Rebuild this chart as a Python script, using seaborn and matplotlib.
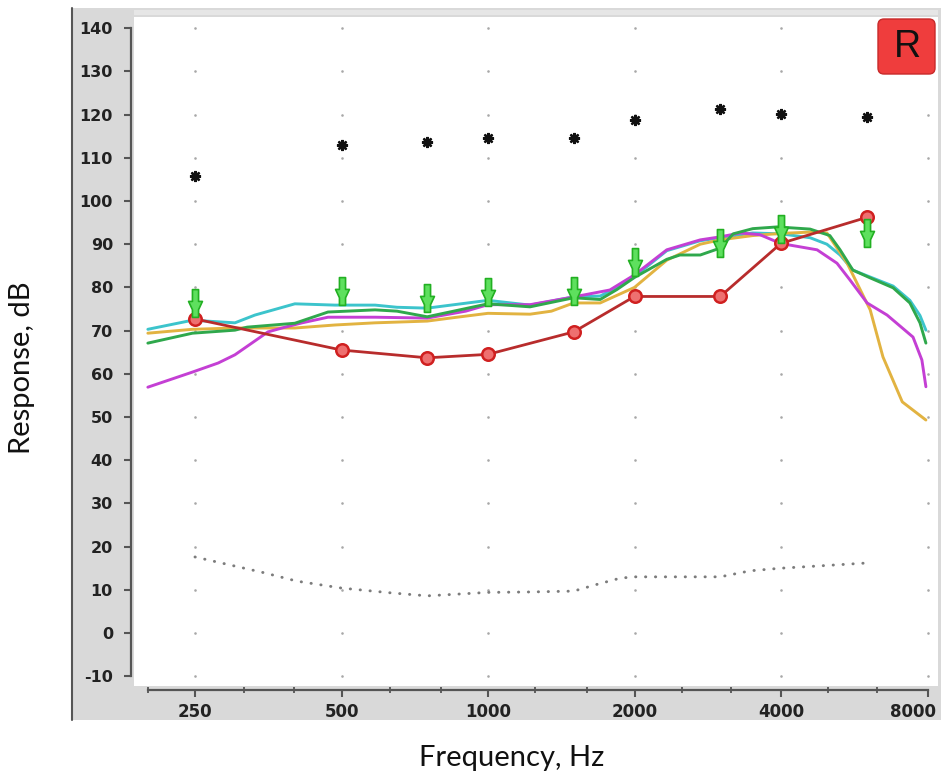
import numpy as np
import pandas as pd
import matplotlib
matplotlib.use("Agg")
import matplotlib.pyplot as plt
from matplotlib.path import Path
from matplotlib.patches import Rectangle, FancyBboxPatch
from matplotlib.transforms import ScaledTranslation
import seaborn as sns

# ---------------- data ----------------
tick_freqs = [250, 500, 1000, 2000, 4000, 8000]
tick_labels = ["250", "500", "1000", "2000", "4000", "8000"]
minor_freqs = [200, 315, 400, 630, 800, 1250, 1600, 2500, 3150, 5000, 6300]
y_ticks = list(range(-10, 141, 10))

audio_freqs = [250, 500, 750, 1000, 1500, 2000, 3000, 4000, 6000]
ucl_db = [105.8, 113.0, 113.7, 114.6, 114.6, 118.8, 121.3, 120.1, 119.4]
threshold_db = [72.7, 65.5, 63.7, 64.5, 69.7, 77.9, 77.9, 90.2, 96.2]
target_db = [76.4, 79.1, 77.5, 78.9, 79.2, 85.9, 90.2, 93.5, 92.5]

noise_freqs = [250, 345, 405, 500, 630, 750, 1000, 1220, 1500, 1680, 1870, 2000, 3000, 3460, 4000, 4745, 6000]
noise_db = [17.6, 14.0, 12.0, 10.4, 9.3, 8.6, 9.4, 9.5, 9.7, 11.3, 12.7, 13.0, 13.0, 14.4, 15.0, 15.5, 16.2]

cyan_f = [200, 247, 302, 332, 401, 485, 586, 650, 750, 1000, 1220, 1500, 1700, 1840, 2000, 2330, 2730, 3000, 3500, 4000, 4590, 4970, 5290, 5620, 6100, 6800, 7360, 7720, 7940]
cyan_db = [70.3, 72.4, 71.8, 73.6, 76.2, 75.9, 75.9, 75.4, 75.2, 77.0, 75.9, 77.8, 78.0, 80.0, 82.5, 88.5, 90.8, 91.5, 92.6, 92.4, 91.5, 90.0, 87.5, 84.0, 82.4, 80.3, 77.0, 73.5, 70.1]

green_f = [200, 247, 302, 320, 401, 469, 586, 650, 750, 850, 1000, 1220, 1500, 1700, 1840, 2000, 2330, 2480, 2730, 3000, 3190, 3500, 3930, 4590, 5040, 5290, 5620, 6100, 6800, 7360, 7720, 7940]
green_db = [67.1, 69.4, 70.1, 70.8, 71.7, 74.3, 74.8, 74.5, 73.2, 74.5, 76.2, 75.5, 77.6, 77.2, 79.5, 82.3, 86.5, 87.5, 87.5, 89.1, 92.4, 93.6, 94.0, 93.5, 92.0, 88.7, 84.0, 82.2, 79.9, 76.4, 71.8, 67.1]

yellow_f = [200, 247, 302, 401, 485, 586, 750, 850, 1000, 1220, 1350, 1500, 1700, 2000, 2330, 2730, 3000, 3500, 4000, 4590, 4970, 5470, 6100, 6480, 7100, 7940]
yellow_db = [69.4, 70.3, 70.6, 70.6, 71.3, 71.8, 72.2, 73.0, 74.0, 73.8, 74.5, 76.4, 76.4, 80.0, 86.3, 90.0, 91.0, 92.0, 92.5, 92.8, 92.6, 85.6, 74.8, 63.9, 53.5, 49.3]

magenta_f = [200, 247, 279, 302, 327, 353, 383, 415, 469, 586, 750, 900, 1000, 1220, 1500, 1780, 2000, 2330, 2730, 3000, 3300, 3620, 3930, 4170, 4745, 5213, 5545, 6012, 6607, 7470, 7790, 7940]
magenta_db = [56.9, 60.4, 62.5, 64.4, 67.1, 69.7, 70.8, 71.8, 73.1, 73.1, 72.9, 74.5, 76.0, 76.0, 77.8, 79.4, 82.9, 88.7, 91.0, 91.7, 92.6, 92.2, 90.5, 89.8, 88.7, 85.6, 81.7, 76.4, 73.6, 68.5, 63.2, 57.0]

curves = [
    ("cyan", cyan_f, cyan_db, "#3cc4cc"),
    ("yellow", yellow_f, yellow_db, "#e2b341"),
    ("magenta", magenta_f, magenta_db, "#c43fd4"),
    ("green", green_f, green_db, "#2fa84c"),
]

# ---------------- style ----------------
sns.set_style("white")
plt.rcParams["font.family"] = ["DejaVu Sans"]

W, H = 941, 776
fig = plt.figure(figsize=(W / 100, H / 100), dpi=100)
fig.patch.set_facecolor("white")

# background axes holding the gray instrument panel
bg = fig.add_axes([0, 0, 1, 1], zorder=-10)
bg.set_xlim(0, W)
bg.set_ylim(H, 0)
bg.axis("off")
bg.add_patch(Rectangle((72, 8), W - 72, 712, facecolor="#d9d9d9", edgecolor="none"))
bg.plot([72, 72], [8, 720], color="#555555", lw=1.5)
bg.add_patch(Rectangle((134, 10), 804, 5, facecolor="#e6e6e6", edgecolor="none"))

L, R_, B, T = 134, 938, 686, 17
ax = fig.add_axes([L / W, 1 - B / H, (R_ - L) / W, (B - T) / H], zorder=1)
ax.set_facecolor("white")
ax.set_xscale("log", base=2)

x0 = 250 * 2 ** ((L - 195) / 146.5)
x1 = 250 * 2 ** ((R_ - 195) / 146.5)
y0 = (633 - B) / 4.32
y1 = (633 - T) / 4.32
ax.set_xlim(x0, x1)
ax.set_ylim(y0, y1)

# grid dots
gx, gy = np.meshgrid(tick_freqs, y_ticks)
ax.scatter(gx.ravel(), gy.ravel(), s=3.5, color="#a8a8a8", zorder=1, linewidths=0)

# noise floor dotted line
ax.plot(noise_freqs, noise_db, color="#7c7c7c", lw=2.1, linestyle=(0, (0.1, 3.3)),
        dash_capstyle="round", zorder=2)

# response curves
for name, f, d, c in curves:
    df = pd.DataFrame({"f": f, "db": d})
    sns.lineplot(data=df, x="f", y="db", ax=ax, color=c, lw=2.1, sort=False,
                 estimator=None, zorder=3)

# threshold (red)
df_thr = pd.DataFrame({"f": audio_freqs, "db": threshold_db})
sns.lineplot(data=df_thr, x="f", y="db", ax=ax, color="#b82c2c", lw=2.0,
             marker="o", markersize=9, markeredgecolor="#d02020",
             markerfacecolor="#ee7070", markeredgewidth=1.8, zorder=5)

# target arrows (green)
arrow_path = Path([(-0.22, 1.0), (0.22, 1.0), (0.22, 0.15), (0.5, 0.15), (0.22, -0.45),
                   (0.22, -1.0), (-0.22, -1.0), (-0.22, -0.45), (-0.5, 0.15),
                   (-0.22, 0.15), (-0.22, 1.0)], closed=True)
ax.plot(audio_freqs, target_db, linestyle="none", marker=arrow_path, markersize=20,
        markerfacecolor="#5ee05e", markeredgecolor="#22b022", markeredgewidth=1.2,
        zorder=6)

# UCL asterisks
ax.plot(audio_freqs, ucl_db, linestyle="none", marker=(8, 2, 0), markersize=8,
        color="#111111", markeredgewidth=1.7, zorder=6)

# axes styling
for s in ["top", "right"]:
    ax.spines[s].set_visible(False)
for s in ["left", "bottom"]:
    ax.spines[s].set_color("#555555")
    ax.spines[s].set_linewidth(1.6)
ax.spines["left"].set_position(("outward", 2.2))
ax.spines["bottom"].set_position(("outward", 3))
ax.spines["left"].set_bounds(-10, 140)
ax.spines["bottom"].set_bounds(200, 8000)

ax.set_yticks(y_ticks)
ax.set_yticklabels([str(v) for v in y_ticks])
ax.set_xticks(tick_freqs)
ax.set_xticklabels(tick_labels)
ax.set_xticks(minor_freqs, minor=True)
ax.xaxis.set_minor_formatter(matplotlib.ticker.NullFormatter())
ax.tick_params(axis="y", which="major", direction="out", length=5, width=1.5,
               color="#555555", pad=8, labelsize=11.5, labelcolor="#222222", left=True)
ax.tick_params(axis="x", which="major", direction="out", length=5, width=1.5,
               color="#555555", pad=4.5, labelsize=12, labelcolor="#222222", bottom=True)
ax.tick_params(axis="x", which="minor", direction="inout", length=4, width=1.3,
               color="#555555", bottom=True)
for lab in ax.get_xticklabels() + ax.get_yticklabels():
    lab.set_fontweight("bold")
last = ax.get_xticklabels()[-1]
last.set_transform(last.get_transform() + ScaledTranslation(-0.15, 0, fig.dpi_scale_trans))
ax.set_xlabel("")
ax.set_ylabel("")

# R badge
ax_b = fig.add_axes([0, 0, 1, 1], zorder=5)
ax_b.set_xlim(0, W)
ax_b.set_ylim(H, 0)
ax_b.axis("off")
ax_b.add_patch(FancyBboxPatch((878, 19), 57, 55, boxstyle="round,pad=0,rounding_size=6",
                              facecolor="#ef3d3d", edgecolor="#c82a2a", lw=1.0))
ax_b.text(907, 47, "R", ha="center", va="center", fontsize=27,
          color="#111111", family=["Liberation Sans", "DejaVu Sans"])

# outer axis labels
fig.text(512 / W, 1 - 758 / H, "Frequency, Hz", ha="center", va="center",
         fontsize=21, family=["Lato", "DejaVu Sans"], color="#111111")
fig.text(22 / W, 1 - 368 / H, "Response, dB", ha="center", va="center",
         rotation=90, fontsize=21, family=["Lato", "DejaVu Sans"], color="#111111")

fig.savefig("out.png", dpi=100, facecolor="white")
